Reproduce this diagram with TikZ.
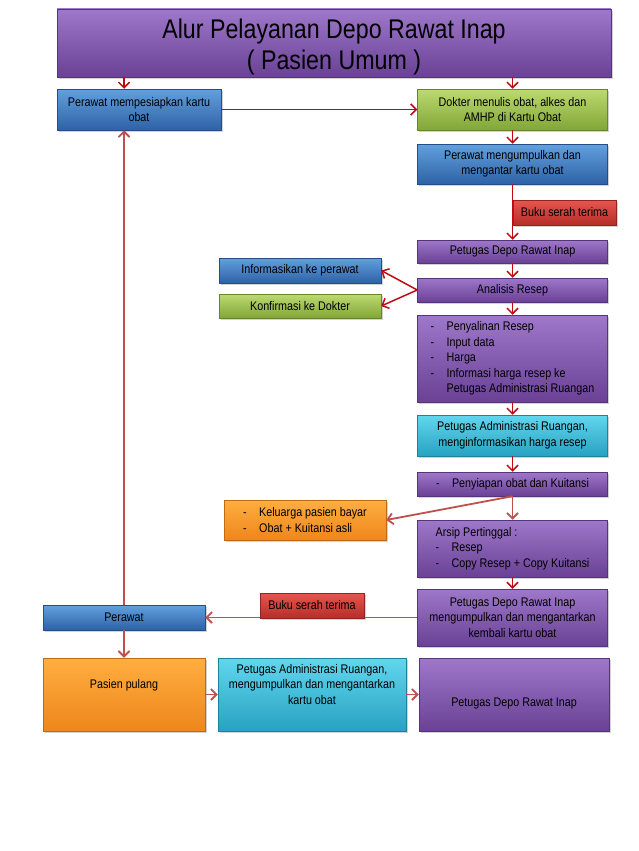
\documentclass[tikz,border=0pt]{standalone}
\usepackage{fontspec}
\setmainfont{Liberation Sans}
\newfontfamily\sempit{Liberation Sans}[FakeStretch=0.86]
\usepackage{tikz}
\usetikzlibrary{arrows.meta,shadows}

\definecolor{unguA}{HTML}{9E78CA}
\definecolor{unguB}{HTML}{6A4195}
\definecolor{biruA}{HTML}{62A0DE}
\definecolor{biruB}{HTML}{2E62A6}
\definecolor{hijauA}{HTML}{BCDA70}
\definecolor{hijauB}{HTML}{82A638}
\definecolor{cyanA}{HTML}{62D6EE}
\definecolor{cyanB}{HTML}{27A2C2}
\definecolor{oranyeA}{HTML}{FFAE40}
\definecolor{oranyeB}{HTML}{EE861C}
\definecolor{merahA}{HTML}{E6564E}
\definecolor{merahB}{HTML}{B52E29}
\definecolor{panahtua}{HTML}{C00A12}
\definecolor{panahmuda}{HTML}{C0504D}

\newcommand{\itm}[1]{\makebox[16pt][l]{-}#1}
\newcommand{\itmc}[1]{\makebox[16pt][l]{}#1}

\begin{document}
\begin{tikzpicture}[x=1pt,y=-1pt,
  kotak/.style={rectangle, align=center, inner sep=2pt, line width=0.5pt,
    font=\sempit\fontsize{12.5}{15.5}\selectfont,
    drop shadow={shadow xshift=1.5pt, shadow yshift=-2pt, opacity=0.35}},
  ukuran/.style 2 args={minimum width=#1pt, minimum height=#2pt},
  ungu/.style={top color=unguA, bottom color=unguB, draw=unguB!80!black},
  biru/.style={top color=biruA, bottom color=biruB, draw=biruB!80!black},
  hijau/.style={top color=hijauA, bottom color=hijauB, draw=hijauB!80!black},
  cyan/.style={top color=cyanA, bottom color=cyanB, draw=cyanB!80!black},
  oranye/.style={top color=oranyeA, bottom color=oranyeB, draw=oranyeB!80!black},
  merah/.style={top color=merahA, bottom color=merahB, draw=merahB!80!black},
  panah/.style={-{Straight Barb[length=5.5pt,width=11pt]}, draw=panahtua, line width=1.5pt},
  panahl/.style={-{Straight Barb[length=5.5pt,width=11pt]}, draw=panahmuda, line width=1.8pt}]

  \path[use as bounding box, fill=white] (0,0) rectangle (638,851);

  \node[kotak, ungu, ukuran={554}{68}, inner sep=0pt, font=\sempit\fontsize{27}{31}\selectfont] (judul) at (334,43) {\rule{0pt}{28pt}Alur Pelayanan Depo Rawat Inap\\( Pasien Umum )};
  \node[kotak, biru, ukuran={164}{41}] (siapkartu) at (139,109.5) {Perawat mempesiapkan kartu\\obat};
  \node[kotak, hijau, ukuran={190}{41}] (dokter) at (512.5,109.5) {Dokter menulis obat, alkes dan\\AMHP di Kartu Obat};
  \node[kotak, biru, ukuran={190}{40}] (kumpul) at (512.5,164) {Perawat mengumpulkan dan\\mengantar kartu obat};
  \node[kotak, ungu, ukuran={190}{23}] (depo) at (512.5,251.5) {Petugas Depo Rawat Inap};
  \node[kotak, ungu, ukuran={190}{24}] (analisis) at (512.5,290) {Analisis Resep};
  \node[kotak, biru, ukuran={162}{25}] (info) at (300,270.5) {Informasikan ke perawat};
  \node[kotak, hijau, ukuran={162}{24}] (konfirm) at (300,306) {Konfirmasi ke Dokter};
  \node[kotak, ungu, ukuran={190}{87}, align=left] (salin) at (512.5,358.5) {\itm{Penyalinan Resep}\\\itm{Input data}\\\itm{Harga}\\\itm{Informasi harga resep ke}\\\itmc{Petugas Administrasi Ruangan}};
  \node[kotak, cyan, ukuran={190}{41}] (harga) at (512.5,435.5) {Petugas Administrasi Ruangan,\\menginformasikan harga resep};
  \node[kotak, ungu, ukuran={190}{24}, align=left] (siapobat) at (512.5,484) {\itm{Penyiapan obat dan Kuitansi}};
  \node[kotak, oranye, ukuran={162}{40}, align=left] (bayar) at (305,520) {\itm{Keluarga pasien bayar}\\\itm{Obat + Kuitansi asli}};
  \node[kotak, ungu, ukuran={190}{57}, align=left] (arsip) at (512.5,548.5) {Arsip Pertinggal :\\\itm{Resep}\\\itm{Copy Resep + Copy Kuitansi}};
  \node[kotak, ungu, ukuran={190}{57}] (kembali) at (512.5,617.5) {Petugas Depo Rawat Inap\\mengumpulkan dan mengantarkan\\kembali kartu obat};
  \node[kotak, biru, ukuran={162}{25}] (perawat) at (124,617.5) {Perawat};
  \node[kotak, oranye, ukuran={162}{73}] (pulang) at (124,694.5) {Pasien pulang\\\strut};
  \node[kotak, cyan, ukuran={188}{73}] (adm) at (312,694.5) {Petugas Administrasi Ruangan,\\mengumpulkan dan mengantarkan\\kartu obat\\\strut};
  \node[kotak, ungu, ukuran={190}{73}] (depoakhir) at (514,694.5) {\strut\\Petugas Depo Rawat Inap};

  \draw[panah] (judul.south -| perawat) -- (siapkartu.north -| perawat);
  \draw[panah] (judul.south -| dokter) -- (dokter);
  \draw[panah] (siapkartu) -- (dokter);
  \draw[panah] (dokter) -- (kumpul);
  \draw[panah] (kumpul) -- (depo);
  \draw[panah] (depo) -- (analisis);
  \draw[panah] (analisis.west) -- (info.east);
  \draw[panah] (analisis.west) -- (konfirm.east);
  \draw[panah] (analisis) -- (salin);
  \draw[panah] (salin) -- (harga);
  \draw[panah] (harga) -- (siapobat);
  \draw[panahl] (siapobat.south) -- (bayar.east);
  \draw[panahl] (siapobat) -- (arsip);
  \draw[panah] (arsip) -- (kembali);
  \draw[panahl] (kembali) -- (perawat);
  \draw[panahl] (perawat.north) -- (siapkartu.south -| perawat);
  \draw[panahl] (perawat) -- (pulang);
  \draw[panahl] (pulang) -- (adm);
  \draw[panahl] (adm) -- (depoakhir);

  \node[kotak, merah, ukuran={103}{25}] (buku1) at (564.5,212.5) {Buku serah terima};
  \node[kotak, merah, ukuran={104}{25}] (buku2) at (312,605.5) {Buku serah terima};
\end{tikzpicture}
\end{document}
